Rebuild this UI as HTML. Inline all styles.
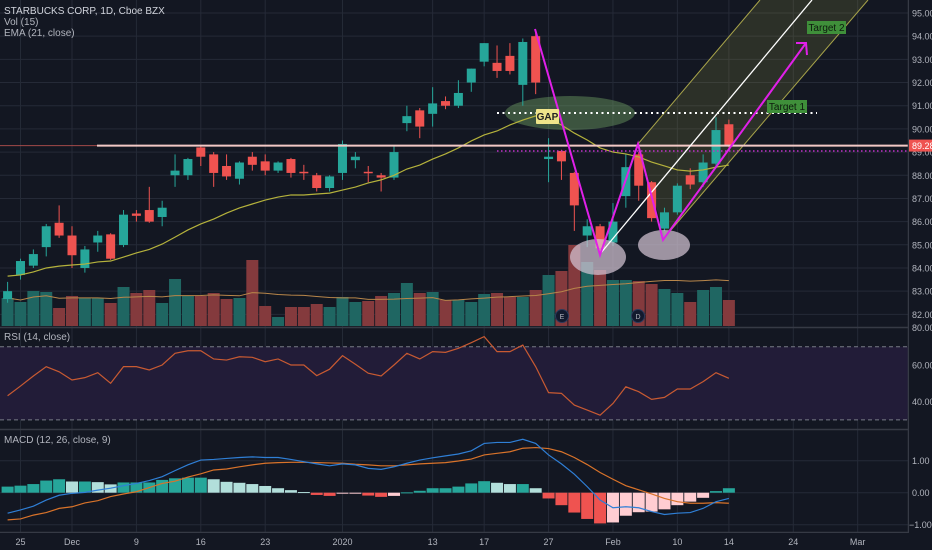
<!DOCTYPE html>
<html><head><meta charset="utf-8">
<style>
html,body{margin:0;padding:0;background:#131722;}
svg{display:block;font-family:"Liberation Sans",sans-serif;}
</style></head>
<body>
<svg id="chart" width="932" height="550" viewBox="0 0 932 550" xmlns="http://www.w3.org/2000/svg">
<rect width="932" height="550" fill="#131722"/>
<g id="grid"></g>
<g id="rsiBg"></g>
<g id="drawBack"></g>
<g id="vol"></g>
<g id="candles"></g>
<g id="lines"></g>
<g id="drawFront"></g>
<g id="axes"></g>
<text x="4" y="14" fill="#d1d4dc" font-size="10">STARBUCKS CORP, 1D, Cboe BZX</text>
<text x="4" y="25" fill="#b2b5be" font-size="10">Vol (15)</text>
<text x="4" y="36" fill="#b2b5be" font-size="10">EMA (21, close)</text>
<text x="4" y="340" fill="#b2b5be" font-size="10">RSI (14, close)</text>
<text x="4" y="443" fill="#b2b5be" font-size="10">MACD (12, 26, close, 9)</text>
</svg>
<script>
const opens=[82.66,83.7,84.1,84.9,85.95,85.4,84.0,85.1,85.45,84.99,86.35,86.5,86.2,88.0,88.0,89.2,88.9,88.4,87.85,88.8,88.6,88.2,88.7,88.15,88.0,87.45,88.1,88.65,88.15,88.0,87.9,90.25,90.8,90.65,91.2,91.0,92.0,92.9,92.85,93.15,91.9,94.0,88.7,89.05,88.1,85.4,85.8,85.1,87.1,88.9,87.7,85.7,86.4,88.0,87.7,88.5,90.2];
const closes=[83.0,84.3,84.6,85.8,85.4,84.55,84.8,85.4,84.4,86.3,86.25,86.0,86.6,88.2,88.7,88.8,88.1,87.95,88.55,88.45,88.2,88.55,88.1,88.1,87.45,87.95,89.35,88.8,88.1,87.9,89.0,90.55,90.1,91.1,91.0,91.55,92.6,93.7,92.5,92.5,93.75,92.0,88.8,88.6,86.7,85.8,84.85,86.0,88.35,87.55,86.15,86.4,87.55,87.6,88.55,89.95,89.3];
const highs=[83.4,84.4,84.8,85.9,86.7,85.8,84.95,85.6,85.5,86.5,86.5,87.5,86.9,88.9,88.75,89.3,89.0,88.9,88.6,89.0,88.9,88.6,88.75,88.45,88.1,88.0,89.5,89.0,88.4,88.1,89.3,91.0,90.9,91.8,91.4,92.1,92.6,93.7,93.6,93.7,93.9,94.2,89.6,89.1,88.15,86.1,85.9,86.8,88.9,89.0,87.75,86.6,87.65,88.3,88.9,90.5,90.4];
const lows=[82.5,83.5,84.0,84.5,85.3,84.0,83.8,84.7,84.35,84.9,86.0,85.95,85.8,87.5,87.8,88.4,87.5,87.8,87.6,88.2,88.0,88.1,87.9,87.8,87.3,87.3,87.8,88.3,87.7,87.3,87.8,89.9,89.6,90.1,90.85,90.9,91.6,92.7,92.2,92.35,91.0,91.5,87.7,87.8,85.6,84.9,84.7,84.95,86.6,86.9,86.0,85.6,86.3,87.4,87.5,88.3,89.2];
const volumes=[7,6,8.75,8.5,4.5,7.5,7,7,5.75,9.75,8.25,9,5.75,11.75,7.5,7.5,8.25,6.75,7,16.5,5,2.25,4.75,4.75,5.5,4.75,7.25,6,6.25,7.5,8.25,10.75,8.25,8.5,6.5,6.5,6,8,8.25,7.25,7.25,9,12.75,13.75,20.25,16,14,11.5,11.5,11.25,10.5,9.25,8.25,6,9,9.75,6.5];
const ema21=[83.65,83.7,83.83,84.0,84.08,84.13,84.17,84.26,84.3,84.47,84.65,84.8,85.03,85.33,85.64,85.9,86.11,86.37,86.59,86.76,86.93,87.06,87.15,87.15,87.19,87.23,87.36,87.49,87.67,87.8,88.0,88.27,88.44,88.7,88.92,89.18,89.48,89.74,89.91,90.17,90.38,90.56,90.47,90.17,89.82,89.52,89.18,89.0,88.92,88.79,88.57,88.4,88.23,88.18,88.23,88.35,88.44];
const rsi=[43.2,48.5,54,59.1,56.3,51.8,53.1,55.8,50,59.1,59.1,57.3,60,66.4,67.8,67.8,63.3,62.7,64.5,64.2,61.8,63.3,60,60,54.2,57.7,65.1,60.4,55.5,54,60,66.4,63.3,67.3,66.9,69.1,72.2,75.5,67.3,67.3,70.9,59.1,44.9,44.5,38.1,35.4,32.6,39,48.1,45.4,41.2,42.3,46.9,46.9,50.9,55.8,52.7];
const macdLine=[-0.64,-0.54,-0.42,-0.23,-0.08,-0.02,0.01,0.08,0.14,0.22,0.29,0.38,0.5,0.69,0.87,1.02,1.04,1.07,1.1,1.12,1.1,1.1,1.04,0.97,0.9,0.84,0.9,0.87,0.76,0.73,0.81,0.92,1.02,1.09,1.15,1.21,1.31,1.54,1.57,1.57,1.67,1.54,1.18,0.9,0.58,0.19,-0.23,-0.47,-0.44,-0.47,-0.59,-0.68,-0.64,-0.62,-0.49,-0.28,-0.18];
const signalLine=[-0.85,-0.82,-0.7,-0.62,-0.49,-0.44,-0.32,-0.25,-0.12,-0.04,0.03,0.16,0.29,0.36,0.49,0.59,0.71,0.74,0.81,0.87,0.92,0.94,0.95,0.95,0.94,0.93,0.92,0.89,0.87,0.84,0.84,0.87,0.9,0.92,0.94,0.99,1.05,1.18,1.23,1.28,1.39,1.41,1.38,1.28,1.1,0.88,0.63,0.42,0.22,0.09,-0.04,-0.18,-0.28,-0.33,-0.33,-0.31,-0.33];
const histogram=[0.19,0.22,0.27,0.38,0.42,0.35,0.35,0.33,0.26,0.32,0.32,0.32,0.4,0.45,0.47,0.47,0.42,0.34,0.31,0.27,0.21,0.14,0.08,0.02,-0.07,-0.1,-0.02,-0.01,-0.09,-0.13,-0.1,0.01,0.06,0.14,0.14,0.19,0.29,0.36,0.31,0.27,0.27,0.14,-0.18,-0.39,-0.62,-0.82,-0.96,-0.93,-0.72,-0.61,-0.59,-0.52,-0.39,-0.28,-0.16,0.05,0.14];
const dateLabels=["25","Dec","9","16","23","2020","13","17","27","Feb","10","14","24","Mar"];
const dateSlots=[1,5,10,15,20,26,33,37,42,47,52,56,61,66];
const priceTicks=[95,94,93,92,91,90,89,88,87,86,85,84,83,82];
const rsiTicks=[60,40];
const macdTicks=[1,0,-1];

const NS="http://www.w3.org/2000/svg";
const xI=i=>7.6+i*12.88;
const yP=p=>13+(95-p)*23.18;
const yV=v=>326-v*4;
const yR=v=>346.7+(70-v)*1.83;
const yM=v=>492.7-v*32;
function mk(tag,attrs,parent,txt){const e=document.createElementNS(NS,tag);for(const k in attrs)e.setAttribute(k,attrs[k]);if(txt!==undefined)e.textContent=txt;parent.appendChild(e);return e;}
const G=id=>document.getElementById(id);
const grid=G('grid'),axes=G('axes');
priceTicks.forEach(p=>{const l=mk('line',{x1:0,x2:908,y1:yP(p),y2:yP(p),stroke:'#252a37','stroke-width':1},grid);

});
[60,40].forEach(v=>{const l=mk('line',{x1:0,x2:908,y1:yR(v),y2:yR(v),stroke:'#3a3350','stroke-width':1},grid);

});
macdTicks.forEach(v=>{const l=mk('line',{x1:0,x2:908,y1:yM(v),y2:yM(v),stroke:'#252a37','stroke-width':1},grid);

});
dateSlots.forEach(s=>{const l=mk('line',{x1:xI(s),x2:xI(s),y1:0,y2:532,stroke:'#252a37','stroke-width':1},grid);

});
const band=mk('rect',{x:0,y:yR(70),width:908,height:yR(30)-yR(70),fill:'#221c38'},G('rsiBg'));


[70,30].forEach(v=>{const l=mk('line',{x1:0,x2:908,y1:yR(v),y2:yR(v),stroke:'#787b86','stroke-dasharray':'4,3','stroke-width':1},G('rsiBg'));

});
[[0,327.5,908,327.5],[0,429.5,908,429.5],[0,532.5,932,532.5],[908.5,0,908.5,550]].forEach(c=>{const l=mk('line',{x1:c[0],y1:c[1],x2:c[2],y2:c[3],stroke:'#363a45','stroke-width':1.5},axes);

});
const db=G('drawBack');
let e;
e=mk('polygon',{points:'638,144 760,0 868,0 665,237',fill:'rgba(170,170,70,0.17)'},db);


e=mk('line',{x1:638,y1:144,x2:760,y2:0,stroke:'#a8a44a','stroke-width':1},db);


e=mk('line',{x1:665,y1:237,x2:868,y2:0,stroke:'#a8a44a','stroke-width':1},db);


e=mk('ellipse',{cx:570,cy:113,rx:65,ry:17,fill:'rgba(110,160,100,0.45)'},db);


const vg=G('vol');
volumes.forEach((v,i)=>{const up=closes[i]>=opens[i];const r=mk('rect',{x:xI(i)-6,y:yV(v),width:12,height:326-yV(v),fill:up?'#1f6662':'#843a3d'},vg);

});
let vma=[];volumes.forEach((v,i)=>{const s=volumes.slice(Math.max(0,i-14),i+1);vma.push(s.reduce((a,b)=>a+b,0)/s.length);});
const vl=mk('polyline',{points:vma.map((v,i)=>xI(i)+','+yV(v)).join(' '),fill:'none',stroke:'#b8864a','stroke-width':1},vg);


const cg=G('candles');
opens.forEach((o,i)=>{const c=closes[i];const col=c>=o?'#26a69a':'#ef5350';const x=xI(i);
const w=mk('line',{x1:x,x2:x,y1:yP(highs[i]),y2:yP(lows[i]),stroke:col,'stroke-width':1},cg);


const top=yP(Math.max(o,c)),bot=yP(Math.min(o,c));
const b=mk('rect',{x:x-4.5,y:top,width:9,height:Math.max(1.5,bot-top),fill:col},cg);

});
const lg=G('lines');
e=mk('polyline',{points:ema21.map((v,i)=>xI(i)+','+yP(v)).join(' '),fill:'none',stroke:'#b5b23c','stroke-width':1.2},lg);


e=mk('polyline',{points:rsi.map((v,i)=>xI(i)+','+yR(v)).join(' '),fill:'none',stroke:'#c85a32','stroke-width':1.2},lg);


histogram.forEach((h,i)=>{const prev=i>0?histogram[i-1]:h;let col;
if(h>=0)col=h>=prev?'#26a69a':'#b2dfdb';else col=h<=prev?'#ef5350':'#ffcdd2';
const y0=yM(0),y1=yM(h);
const r=mk('rect',{x:xI(i)-6,y:Math.min(y0,y1),width:12,height:Math.max(1,Math.abs(y1-y0)),fill:col},lg);

});
e=mk('polyline',{points:signalLine.map((v,i)=>xI(i)+','+yM(v)).join(' '),fill:'none',stroke:'#d9732a','stroke-width':1.2},lg);


e=mk('polyline',{points:macdLine.map((v,i)=>xI(i)+','+yM(v)).join(' '),fill:'none',stroke:'#2f7fd6','stroke-width':1.2},lg);


const df=G('drawFront');
e=mk('line',{x1:0,x2:97,y1:yP(89.28),y2:yP(89.28),stroke:'#a34a4a','stroke-width':1},df);


e=mk('line',{x1:97,x2:908,y1:yP(89.28),y2:yP(89.28),stroke:'#f3c9c6','stroke-width':2},df);


e=mk('line',{x1:497,x2:908,y1:151,y2:151,stroke:'#c030c8','stroke-width':1.5,'stroke-dasharray':'1.5,2.5'},df);


e=mk('line',{x1:497,x2:817,y1:113,y2:113,stroke:'#ffffff','stroke-width':2,'stroke-dasharray':'2,3.5'},df);


e=mk('ellipse',{cx:598,cy:257,rx:28,ry:18,fill:'rgba(210,195,210,0.72)'},df);


e=mk('ellipse',{cx:664,cy:245,rx:26,ry:15,fill:'rgba(210,195,210,0.72)'},df);


e=mk('line',{x1:600,y1:254,x2:812,y2:0,stroke:'#ffffff','stroke-width':1.3},df);


e=mk('polyline',{points:'535,29 600,255 638,144 663,240 806,43',fill:'none',stroke:'#e020e8','stroke-width':2},df);


e=mk('polyline',{points:'796,43 806,43 807,55',fill:'none',stroke:'#e020e8','stroke-width':2},df);


e=mk('rect',{x:536,y:109,width:23,height:15,fill:'#efe48a',rx:1},df);


e=mk('text',{x:547.5,y:120,'font-size':10,'text-anchor':'middle',fill:'#222','font-weight':'bold'},df,'GAP');


e=mk('rect',{x:767,y:100,width:40,height:13,fill:'#3f8f3a'},df);


e=mk('text',{x:787,y:110,'font-size':10,'text-anchor':'middle',fill:'#0d1a0d'},df,'Target 1');


e=mk('rect',{x:807,y:21,width:39,height:13,fill:'#3f8f3a'},df);


e=mk('text',{x:826.5,y:31,'font-size':10,'text-anchor':'middle',fill:'#0d1a0d'},df,'Target 2');


[['E',562,'earnings-marker'],['D',638,'dividend-marker']].forEach(m=>{
const c=mk('circle',{cx:m[1],cy:316,r:6.5,fill:'#131a2e',stroke:'#2a3a5c','stroke-width':1},df);


const t=mk('text',{x:m[1],y:319,'font-size':7,'text-anchor':'middle',fill:'#b2b5be'},df,m[0]);

});
e=mk('rect',{x:909,y:0,width:23,height:550,fill:'#131722'},axes);


e=mk('rect',{x:0,y:533,width:932,height:17,fill:'#131722'},axes);


priceTicks.forEach(p=>{const t=mk('text',{x:912,y:yP(p)+3.5,'font-size':9,fill:'#b2b5be'},axes,p.toFixed(2));

});
e=mk('text',{x:912,y:331,'font-size':9,fill:'#b2b5be'},axes,'80.00');


rsiTicks.forEach(v=>{const t=mk('text',{x:912,y:yR(v)+3.5,'font-size':9,fill:'#b2b5be'},axes,v.toFixed(2));

});
macdTicks.forEach(v=>{const t=mk('text',{x:v<0?909:912,y:yM(v)+3.5,'font-size':9,fill:'#b2b5be'},axes,(v<0?'\u2212':'')+Math.abs(v).toFixed(2));

});
dateLabels.forEach((d,k)=>{const t=mk('text',{x:xI(dateSlots[k]),y:545,'font-size':9,'text-anchor':'middle',fill:'#b2b5be'},axes,d);

});
e=mk('rect',{x:909,y:yP(89.28)-6,width:23,height:12,fill:'#ef5350'},axes);


e=mk('text',{x:912,y:yP(89.28)+3.5,'font-size':9,fill:'#ffffff'},axes,'89.28');


</script>
</body></html>
